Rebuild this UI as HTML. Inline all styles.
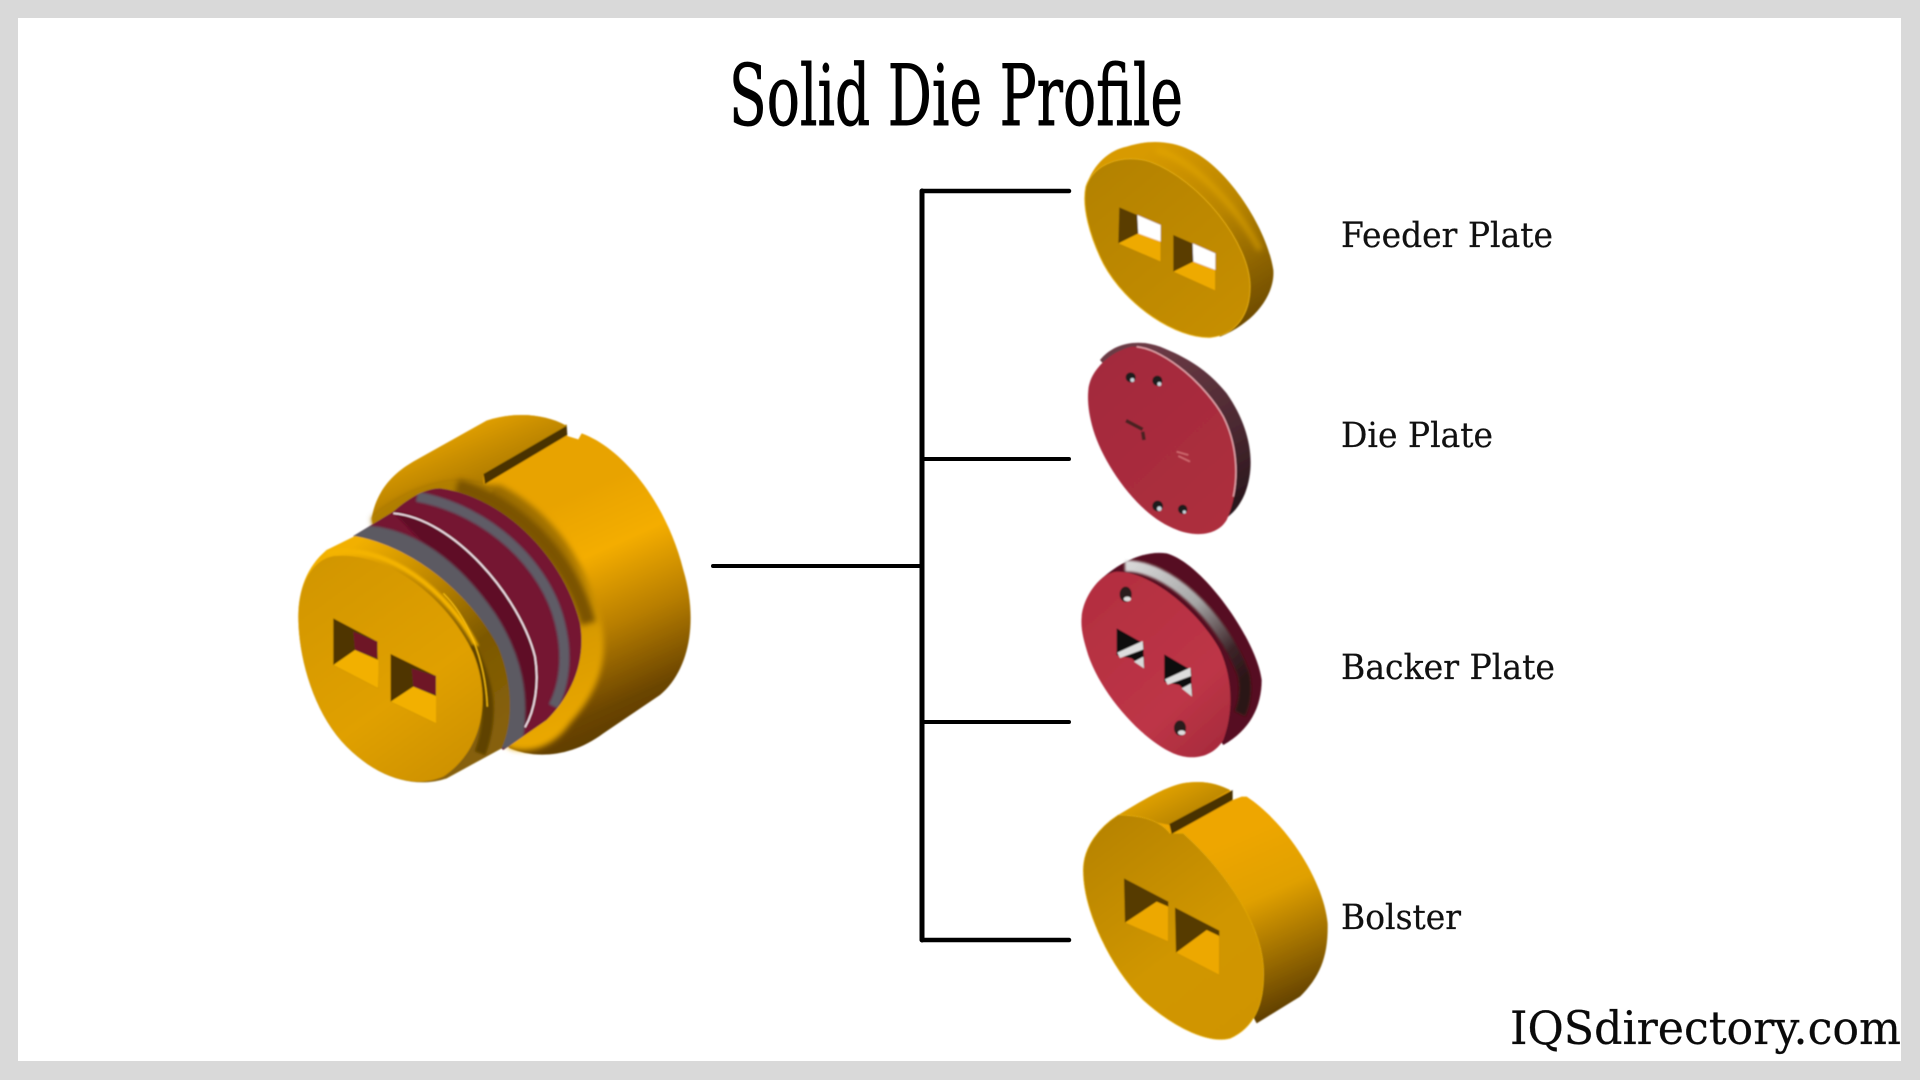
<!DOCTYPE html>
<html><head><meta charset="utf-8"><title>Solid Die Profile</title>
<style>html,body{margin:0;padding:0;background:#d9d9d9;width:1920px;height:1080px;overflow:hidden}svg{display:block}</style></head>
<body>
<svg xmlns="http://www.w3.org/2000/svg" width="1920" height="1080" viewBox="0 0 1920 1080">
<defs>
<linearGradient id="side" gradientUnits="userSpaceOnUse" x1="880" y1="330" x2="1180" y2="1000"><stop offset="0" stop-color="#e8a300"/><stop offset=".25" stop-color="#f4ad00"/><stop offset=".55" stop-color="#b87e00"/><stop offset=".85" stop-color="#6b4500"/><stop offset="1" stop-color="#5a3a00"/></linearGradient>
<linearGradient id="shoulder" gradientUnits="userSpaceOnUse" x1="520" y1="100" x2="600" y2="290"><stop offset="0" stop-color="#eaa600"/><stop offset=".5" stop-color="#cc9000"/><stop offset="1" stop-color="#b07c00"/></linearGradient>
<linearGradient id="rim" gradientUnits="userSpaceOnUse" x1="680" y1="300" x2="930" y2="1020"><stop offset="0" stop-color="#9c6d00"/><stop offset=".3" stop-color="#a87600"/><stop offset=".65" stop-color="#d89a00"/><stop offset="1" stop-color="#eaa800"/></linearGradient>
<linearGradient id="plug" gradientUnits="userSpaceOnUse" x1="300" y1="430" x2="700" y2="1000"><stop offset="0" stop-color="#f2b000"/><stop offset=".35" stop-color="#b88200"/><stop offset=".65" stop-color="#7c5800"/><stop offset="1" stop-color="#86600a"/></linearGradient>
<linearGradient id="face" gradientUnits="userSpaceOnUse" x1="150" y1="520" x2="600" y2="1150"><stop offset="0" stop-color="#d29600"/><stop offset=".6" stop-color="#e0a000"/><stop offset="1" stop-color="#cc9000"/></linearGradient>
<linearGradient id="fside" gradientUnits="userSpaceOnUse" x1="300" y1="40" x2="620" y2="560"><stop offset="0" stop-color="#d89a00"/><stop offset=".45" stop-color="#b88400"/><stop offset="1" stop-color="#6a4800"/></linearGradient>
<linearGradient id="fface" gradientUnits="userSpaceOnUse" x1="120" y1="120" x2="520" y2="600"><stop offset="0" stop-color="#b48200"/><stop offset="1" stop-color="#c68e05"/></linearGradient>
<linearGradient id="rface" gradientUnits="userSpaceOnUse" x1="100" y1="700" x2="520" y2="1180"><stop offset="0" stop-color="#a32a3c"/><stop offset="1" stop-color="#ad2e3e"/></linearGradient>
<linearGradient id="rside" gradientUnits="userSpaceOnUse" x1="300" y1="640" x2="560" y2="1130"><stop offset="0" stop-color="#6b3a45"/><stop offset=".6" stop-color="#4a2830"/><stop offset="1" stop-color="#26141a"/></linearGradient>
<linearGradient id="bface" gradientUnits="userSpaceOnUse" x1="90" y1="150" x2="500" y2="600"><stop offset="0" stop-color="#b32e40"/><stop offset=".7" stop-color="#bd3546"/><stop offset="1" stop-color="#a82b3d"/></linearGradient>
<linearGradient id="band" gradientUnits="userSpaceOnUse" x1="220" y1="60" x2="560" y2="420"><stop offset="0" stop-color="#d8d8d8"/><stop offset=".45" stop-color="#a5a5a5"/><stop offset=".8" stop-color="#3c2428"/><stop offset="1" stop-color="#2a1216"/></linearGradient>
<linearGradient id="bolside" gradientUnits="userSpaceOnUse" x1="540" y1="880" x2="770" y2="1400"><stop offset="0" stop-color="#eea600"/><stop offset=".35" stop-color="#e0a000"/><stop offset=".7" stop-color="#966800"/><stop offset="1" stop-color="#543600"/></linearGradient>
<linearGradient id="bolface" gradientUnits="userSpaceOnUse" x1="120" y1="880" x2="550" y2="1450"><stop offset="0" stop-color="#b88400"/><stop offset=".6" stop-color="#d09600"/><stop offset="1" stop-color="#cf9400"/></linearGradient>
<linearGradient id="bolsh" gradientUnits="userSpaceOnUse" x1="360" y1="730" x2="420" y2="850"><stop offset="0" stop-color="#dc9e00"/><stop offset="1" stop-color="#b07e00"/></linearGradient>
<filter id="soft" x="-10%" y="-10%" width="120%" height="120%"><feGaussianBlur stdDeviation="2"/></filter>
<filter id="b1" filterUnits="userSpaceOnUse" x="-200" y="-200" width="2200" height="2400"><feGaussianBlur stdDeviation="3"/></filter>
<filter id="b2" filterUnits="userSpaceOnUse" x="-200" y="-200" width="2200" height="2400"><feGaussianBlur stdDeviation="9"/></filter>
<clipPath id="ringclip"><path d="M250 438L370 365C420 320 470 295 510 295C700 320 880 500 930 700C950 820 900 920 830 990L700 1080L600 1000Z"/></clipPath>
</defs>

<rect x="18" y="18" width="1883" height="1043" fill="#fff"/>

<!-- title -->
<text x="729" y="125" font-family="'DejaVu Serif','Liberation Serif',serif" font-size="84" textLength="454" lengthAdjust="spacingAndGlyphs" fill="#000" stroke="#000" stroke-width=".9">Solid Die Profile</text>

<!-- connectors -->
<g stroke="#000" fill="none" stroke-linecap="round">
<path d="M922 191V940" stroke-width="5"/>
<path d="M922 191H1069" stroke-width="4.5"/>
<path d="M922 459H1069" stroke-width="4"/>
<path d="M713 566H922" stroke-width="4"/>
<path d="M922 722H1069" stroke-width="4"/>
<path d="M922 940H1069" stroke-width="4.5"/>
</g>

<!-- labels -->
<g font-family="'DejaVu Serif','Liberation Serif',serif" font-size="35" fill="#111" stroke="#111" stroke-width=".25">
<text x="1341" y="247" textLength="212" lengthAdjust="spacingAndGlyphs">Feeder Plate</text>
<text x="1341" y="447" textLength="152" lengthAdjust="spacingAndGlyphs">Die Plate</text>
<text x="1341" y="679" textLength="214" lengthAdjust="spacingAndGlyphs">Backer Plate</text>
<text x="1341" y="929" textLength="120" lengthAdjust="spacingAndGlyphs">Bolster</text>
<text x="1510" y="1044" font-size="46" textLength="391" lengthAdjust="spacingAndGlyphs" fill="#0a0a0a">IQSdirectory.com</text>
</g>

<!-- main die -->
<g transform="translate(270,390) scale(.33333)" filter="url(#soft)">
<path d="M305 385C320 300 370 250 430 215L650 92C740 62 830 75 885 105L892 138L925 148L935 130C1060 175 1190 340 1240 540C1285 690 1260 840 1170 915L1000 1030C900 1105 790 1105 720 1075L400 800Z" fill="url(#side)"/>
<path d="M305 385C320 300 370 250 430 215L650 92C740 62 830 75 885 105L640 250L640 285C540 250 400 300 305 385Z" fill="url(#shoulder)"/>
<path d="M305 385C400 300 540 250 640 285L690 285C820 350 940 480 990 680C1020 800 990 900 900 1000C860 1060 790 1095 720 1075L400 800Z" fill="url(#rim)" filter="url(#b2)"/>
<path d="M305 385C400 300 540 250 640 285L670 300L500 500L400 800Z" fill="#b07e00" filter="url(#b1)"/>
<path d="M560 290C740 340 900 500 955 700" stroke="#7a5200" stroke-width="46" fill="none" filter="url(#b2)"/>
<path d="M640 250L890 105L892 135L645 282Z" fill="#4a3200"/>
<path d="M640 250L890 105" stroke="#b88400" stroke-width="4" fill="none"/>
<!-- rings -->
<path d="M250 438L370 365C420 320 470 295 510 295C700 320 880 500 930 700C950 820 900 920 830 990L700 1080L600 1000Z" fill="#741330"/>
<g clip-path="url(#ringclip)">
<path d="M370 365C550 385 750 620 795 800C808 880 795 960 765 1012L680 1060L500 500Z" fill="#5e0f28" filter="url(#b1)"/>
<g fill="none" filter="url(#b1)">
<path d="M440 320C660 360 830 530 870 700C890 780 890 870 850 950" stroke="#5f5c66" stroke-width="32"/>
<path d="M230 440C420 420 560 560 650 690C720 800 755 920 720 1080" stroke="#5c5a62" stroke-width="66"/>
</g>
</g>
<path d="M370 370C550 385 750 620 795 800C808 880 795 960 765 1012" stroke="#f6e6ee" stroke-width="5" fill="none"/>
<!-- plug -->
<path d="M85 680C85 600 110 530 170 480L255 438C430 470 600 610 685 770C730 880 730 1000 695 1075L530 1165C440 1195 330 1170 230 1070C130 970 85 800 85 680Z" fill="url(#plug)"/>
<path d="M170 490C350 450 540 610 620 770" stroke="#f4b400" stroke-width="14" fill="none" filter="url(#b1)"/>
<path d="M600 770C660 880 670 980 630 1090" stroke="#5e4200" stroke-width="34" fill="none" filter="url(#b1)"/>
<path d="M85 680C85 580 130 505 195 498C350 485 530 620 610 790C665 925 640 1080 520 1160C440 1195 330 1170 230 1070C130 970 85 800 85 680Z" fill="url(#face)"/>
<path d="M520 610C590 680 645 800 652 950" stroke="#f6bc10" stroke-width="4" fill="none"/>
<!-- holes -->
<path d="M190 685L322 755L325 895L190 825Z" fill="#4f3500"/>
<path d="M250 725L322 755V805L255 780Z" fill="#6e1226"/>
<path d="M190 825L255 780L325 810V895Z" fill="#f2b000"/>
<path d="M362 792L498 858V1000L362 935Z" fill="#4f3500"/>
<path d="M425 835L498 858V915L430 890Z" fill="#6e1226"/>
<path d="M362 935L430 890L498 918V1000Z" fill="#f2b000"/>
</g>

<!-- feeder plate + die plate -->
<g transform="translate(1060,130) scale(.33333)" filter="url(#soft)">
<path d="M78 170C100 100 150 60 200 50C260 30 330 30 390 60C500 110 620 290 640 420C645 490 590 575 480 620L300 400Z" fill="url(#fside)"/>
<path d="M290 60C400 90 530 230 600 360" stroke="#e8ab00" stroke-width="16" stroke-opacity=".6" fill="none" filter="url(#b2)"/>
<path d="M78 170C100 100 190 70 270 95C420 150 570 340 570 470C570 550 530 615 450 622C350 625 200 530 130 400C90 320 65 230 78 170Z" fill="url(#fface)" stroke="#e2aa10" stroke-width="3"/>
<path d="M178 232L302 285V395L175 340Z" fill="#5a3e00"/>
<path d="M232 255L302 285V335L235 312Z" fill="#fff"/>
<path d="M175 340L235 310L302 335V395Z" fill="#eeaa00"/>
<path d="M340 315L466 370V482L340 425Z" fill="#5a3e00"/>
<path d="M398 340L466 370V420L400 395Z" fill="#fff"/>
<path d="M340 425L400 395L466 420V482Z" fill="#eeaa00"/>

<path d="M120 690C160 640 230 625 300 650C400 690 450 730 500 790C570 890 590 1000 555 1090C530 1150 500 1160 470 1190L300 900Z" fill="url(#rside)"/>
<path d="M85 780C88 730 140 668 215 650C310 650 440 770 490 860C540 960 540 1080 500 1170C470 1220 400 1222 340 1195C230 1150 130 1000 100 900C85 850 82 810 85 780Z" fill="url(#rface)"/>
<path d="M230 650C320 660 440 770 490 860C530 940 535 1030 520 1100" stroke="#e8a8b0" stroke-width="4" fill="none"/>
<g fill="#1c1c1c"><circle cx="212" cy="742" r="15"/><circle cx="292" cy="752" r="15"/><circle cx="293" cy="1128" r="16"/><circle cx="368" cy="1138" r="14"/></g>
<g fill="#c9d4dc"><circle cx="217" cy="750" r="6"/><circle cx="298" cy="762" r="6"/><circle cx="298" cy="1136" r="7"/><circle cx="373" cy="1146" r="5"/></g>
<path d="M198 872L248 898M248 905L252 930" stroke="#4a2024" stroke-width="11" fill="none"/>
<path d="M350 965L385 975M355 978L390 995" stroke="#d06a70" stroke-width="5" fill="none"/>
</g>

<!-- backer + bolster -->
<g transform="translate(1060,540) scale(.33333)" filter="url(#soft)">
<path d="M110 130C170 70 250 30 320 40C430 70 590 300 605 420C605 500 570 570 490 615L300 350Z" fill="#561020"/>
<path d="M195 78C320 75 480 220 550 400C560 440 555 490 540 520" stroke="url(#band)" stroke-width="34" fill="none" filter="url(#b1)"/>
<path d="M65 230C70 170 120 100 170 95C280 95 420 220 480 330C520 420 520 520 490 600C460 650 400 665 340 640C230 590 110 440 80 330C68 290 62 260 65 230Z" fill="url(#bface)"/>
<path d="M170 265L250 310L252 385L215 355L170 345Z" fill="#111"/>
<path d="M172 338L248 303L250 328L180 354Z" fill="#ddd"/>
<path d="M222 365L250 350L252 385Z" fill="#d8d8d8"/>
<path d="M313 343L393 390L396 470L358 435L313 425Z" fill="#111"/>
<path d="M315 418L391 383L393 408L323 434Z" fill="#ddd"/>
<path d="M365 445L393 430L396 470Z" fill="#d8d8d8"/>
<ellipse cx="197" cy="163" rx="18" ry="23" fill="#2a1a1a"/><ellipse cx="202" cy="177" rx="11" ry="7" fill="#ddd"/>
<ellipse cx="360" cy="564" rx="18" ry="23" fill="#2a1a1a"/><ellipse cx="365" cy="578" rx="11" ry="7" fill="#ddd"/>

<path d="M175 825C250 780 330 730 390 727C440 722 480 735 510 750L518 780L545 770L560 770C680 850 790 1020 803 1150C805 1250 780 1310 720 1370L590 1450L400 1100Z" fill="url(#bolside)"/>
<path d="M175 825C250 780 330 730 390 727C440 722 480 735 510 750L330 855Z" fill="url(#bolsh)"/>
<path d="M70 990C70 920 120 860 175 825C240 825 300 840 330 880L370 880C470 970 600 1130 610 1280C615 1380 590 1460 510 1495C450 1510 350 1470 250 1380C150 1280 70 1110 70 990Z" fill="url(#bolface)" stroke="#e6ac10" stroke-width="2"/>
<path d="M328 852L518 750L518 780L335 882Z" fill="#4a3200"/>
<path d="M192 1015L325 1085L325 1205L195 1148Z" fill="#563b00"/>
<path d="M195 1148L290 1085L325 1100L325 1205Z" fill="#eda800"/>
<path d="M345 1103L478 1172L478 1305L348 1238Z" fill="#563b00"/>
<path d="M348 1238L440 1170L478 1188L478 1305Z" fill="#eda800"/>
</g>
</svg>
</body></html>
